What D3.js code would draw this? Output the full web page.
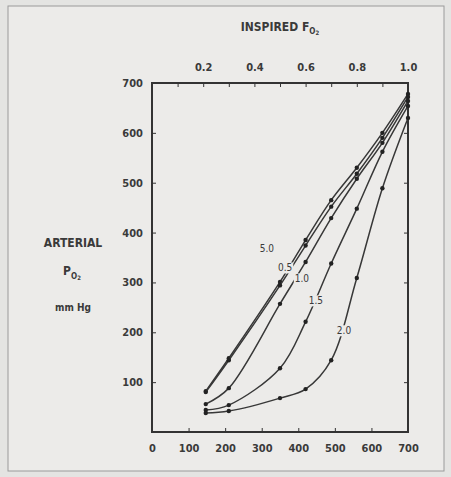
<!DOCTYPE html>
<html>
<head>
<meta charset="utf-8">
<script src="https://cdn.jsdelivr.net/npm/d3@7"></script>
<style>
  body { margin: 0; background: #e4e4e2; }
  svg { display: block; }
  .axis text { font-family: "DejaVu Sans Condensed", "Liberation Sans Narrow", sans-serif;
               font-size: 11px; font-weight: bold; fill: #3a3a3a; }
  .axis path, .axis line { stroke: #333; }
  .lbl { font-family: "DejaVu Sans Condensed", "Liberation Sans Narrow", sans-serif;
         font-weight: bold; fill: #3a3a3a; }
</style>
</head>
<body>
<script>
// inspired PO2 (mm Hg) at which the model points were computed
var inspiredPo2 = [147, 210, 350, 420, 490, 560, 630, 700];

// arterial PO2 (mm Hg) for each curve
var curveNames = ["5.0", "0.5", "1.0", "1.5", "2.0"];
var po2_50 = [82, 148, 301, 385, 465, 530, 600, 678];
var po2_05 = [80, 144, 294, 374, 452, 518, 590, 672];
var po2_10 = [56, 88, 257, 341, 429, 508, 580, 664];
var po2_15 = [44, 54, 128, 221, 338, 448, 562, 654];
var po2_20 = [38, 42, 68, 86, 144, 309, 489, 630];

var xTicks = [0, 100, 200, 300, 400, 500, 600, 700];
var yTicks = [100, 200, 300, 400, 500, 600, 700];
var fTicks = [0.2, 0.4, 0.6, 0.8, 1.0];
var fTickLabels = ["0.2", "0.4", "0.6", "0.8", "1.0"];

var series = [po2_50, po2_05, po2_10, po2_15, po2_20];

var margin = {top: 83, right: 43, bottom: 45, left: 152},
    width = 451 - margin.left - margin.right,
    height = 477 - margin.top - margin.bottom;

var root = d3.select("body").append("svg")
    .attr("width", 451)
    .attr("height", 477);

// faint photo border
root.append("rect")
    .attr("x", 8).attr("y", 6)
    .attr("width", 436).attr("height", 465)
    .style("fill", "#ecebe9")
    .style("stroke", "#9a9a9a")
    .style("stroke-width", "1px");

var svg = root.append("g")
    .attr("transform", "translate(" + margin.left + "," + margin.top + ")");

var x = d3.scaleLinear().domain([0, 700]).range([0, width]);
var y = d3.scaleLinear().domain([0, 700]).range([height, 0]);
var f = d3.scaleLinear().domain([0, 1.0]).range([0, width]);

// frame
svg.append("rect")
    .attr("width", width)
    .attr("height", height)
    .style("fill", "none")
    .style("stroke", "#333")
    .style("stroke-width", "2px");

// axes, ticks point inward
var bottomAxis = d3.axisBottom(x).tickValues(xTicks).tickSize(-4)
    .tickPadding(12).tickFormat(d3.format("d"));
var leftAxis = d3.axisLeft(y).tickValues(yTicks).tickSize(-4)
    .tickPadding(9).tickFormat(d3.format("d"));
var rightAxis = d3.axisRight(y).tickValues(yTicks).tickSize(-4)
    .tickFormat("");
var topAxis = d3.axisTop(f).tickValues(d3.range(1, 11).map(function(d){ return d / 10; }))
    .tickSize(-4).tickPadding(12)
    .tickFormat(function(d){
        var i = fTicks.findIndex(function(t){ return Math.abs(t - d) < 1e-9; });
        return i < 0 ? "" : fTickLabels[i];
    });

svg.append("g").attr("class", "axis")
    .attr("transform", "translate(0," + height + ")")
    .call(bottomAxis);
svg.append("g").attr("class", "axis").call(leftAxis);
svg.append("g").attr("class", "axis")
    .attr("transform", "translate(" + width + ",0)")
    .call(rightAxis);
svg.append("g").attr("class", "axis").call(topAxis);
svg.selectAll(".axis .domain").remove();

// curves
var line = d3.line()
    .x(function(d){ return x(d[0]); })
    .y(function(d){ return y(d[1]); })
    .curve(d3.curveCatmullRom.alpha(0.5));

series.forEach(function(s, i){
    var pts = inspiredPo2.map(function(p, j){ return [p, s[j]]; });
    svg.append("path")
        .datum(pts)
        .attr("d", line)
        .style("fill", "none")
        .style("stroke", "#383838")
        .style("stroke-width", "1.5px");
    svg.selectAll(".dot" + i)
        .data(pts)
        .enter()
        .append("circle")
        .attr("cx", function(d){ return x(d[0]); })
        .attr("cy", function(d){ return y(d[1]); })
        .attr("r", 2.2)
        .style("fill", "#222");
});

// curve labels, placed in data units near each line
var labelAt = [[314, 369], [364, 329], [410, 307], [448, 263], [525, 203]];
curveNames.forEach(function(c, i){
    var t = svg.append("text")
        .attr("class", "lbl")
        .attr("x", x(labelAt[i][0]))
        .attr("y", y(labelAt[i][1]))
        .attr("text-anchor", "middle")
        .attr("dy", "0.35em")
        .style("font-size", "10px")
        .style("font-weight", "normal")
        .text(c);
    var b = t.node().getBBox();
    svg.insert("rect", function(){ return t.node(); })
        .attr("x", b.x - 1).attr("y", b.y)
        .attr("width", b.width + 2).attr("height", b.height)
        .style("fill", "#ecebe9");
});

// titles
var topTitle = root.append("text")
    .attr("class", "lbl")
    .attr("x", 280)
    .attr("y", 31)
    .attr("text-anchor", "middle")
    .style("font-size", "12px");
topTitle.append("tspan").text("INSPIRED F");
topTitle.append("tspan").attr("dy", 3).style("font-size", "8px").text("O");
topTitle.append("tspan").attr("dy", 1).style("font-size", "6px").text("2");

root.append("text")
    .attr("class", "lbl")
    .attr("x", 73).attr("y", 247)
    .attr("text-anchor", "middle")
    .style("font-size", "12px")
    .text("ARTERIAL");

var pTitle = root.append("text")
    .attr("class", "lbl")
    .attr("x", 72).attr("y", 275)
    .attr("text-anchor", "middle")
    .style("font-size", "12px");
pTitle.append("tspan").text("P");
pTitle.append("tspan").attr("dy", 4).style("font-size", "8px").text("O");
pTitle.append("tspan").attr("dy", 1).style("font-size", "6px").text("2");

root.append("text")
    .attr("class", "lbl")
    .attr("x", 73).attr("y", 311)
    .attr("text-anchor", "middle")
    .style("font-size", "10px")
    .text("mm Hg");
</script>
</body>
</html>
